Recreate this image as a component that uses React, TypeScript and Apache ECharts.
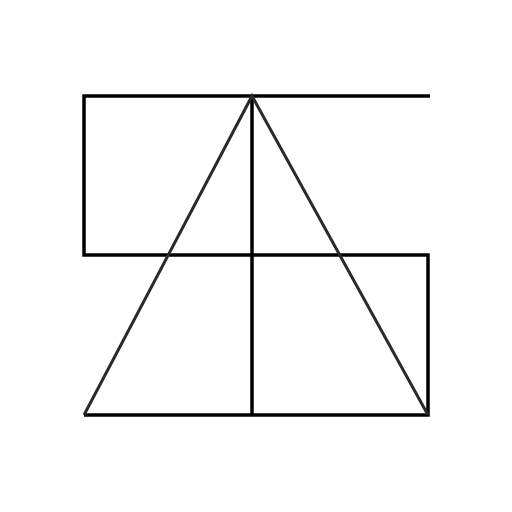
import { useEffect, useRef } from "react";
import * as echarts from "echarts";

// figure coordinates (x to the right, y downwards)
const outline: [number, number][] = [
  [430, 96],
  [84, 96],
  [84, 255],
  [428, 255],
  [428, 415],
  [84, 415],
];
const divider: [number, number][] = [
  [252, 96],
  [252, 415],
];
const triangle: [number, number][] = [
  [84, 415],
  [252, 96],
  [428, 415],
];

export default function App() {
  const chartRef = useRef<HTMLDivElement>(null);

  useEffect(() => {
    if (!chartRef.current) return;
    const chart = echarts.init(chartRef.current, undefined, { renderer: "svg" });

    const lineSeries = (data: [number, number][], color: string, width: number) => ({
      type: "line" as const,
      data,
      showSymbol: false,
      symbol: "none",
      silent: true,
      lineStyle: { color, width, join: "miter" as const, cap: "butt" as const },
    });

    chart.setOption({
      animation: false,
      backgroundColor: "#ffffff",
      grid: { left: 0, right: 0, top: 0, bottom: 0 },
      xAxis: { type: "value", min: 0, max: 512, show: false },
      yAxis: { type: "value", min: 0, max: 512, inverse: true, show: false },
      series: [
        lineSeries(outline, "#000000", 3.5),
        lineSeries(divider, "#000000", 3.5),
        lineSeries(triangle, "#2a2a2a", 3),
      ],
    });

    return () => chart.dispose();
  }, []);

  return (
    <div
      ref={chartRef}
      style={{ position: "absolute", left: 0, top: 0, width: "512px", height: "512px" }}
    />
  );
}
